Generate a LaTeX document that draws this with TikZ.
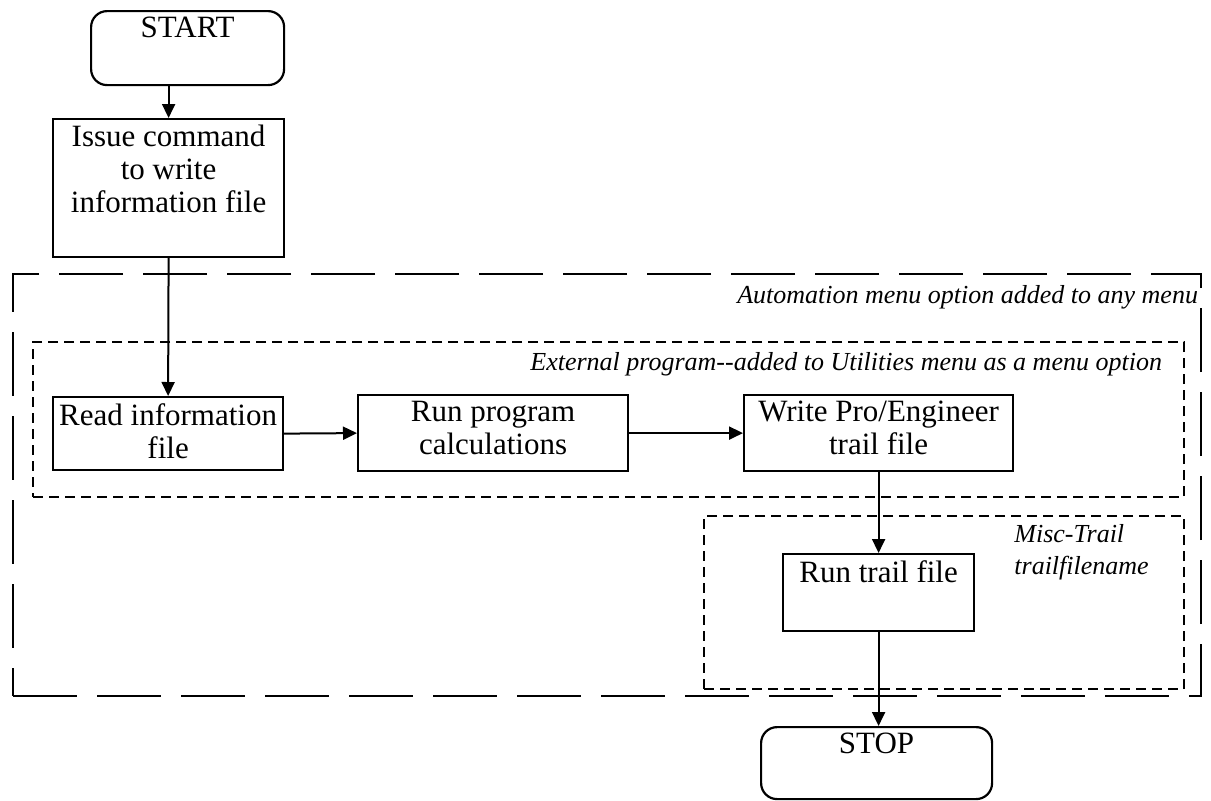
\documentclass[tikz,border=0pt]{standalone}
\usepackage{fontspec}
\setmainfont{Liberation Serif}
\usetikzlibrary{arrows.meta}
\begin{document}
\begin{tikzpicture}[x=1pt,y=-1pt,
  box/.style={draw, line width=2.2pt, inner sep=0pt, anchor=north west},
  term/.style={box, rounded corners=16pt},
  lbl/.style={anchor=north, inner sep=0pt, yshift=-7pt, align=center, font=\fontsize{31}{33}\selectfont},
  arr/.style={line width=2pt, -{Triangle[length=14pt,width=13pt]}},
  outerframe/.style={draw, line width=2.2pt, dash pattern=on 64pt off 20pt, inner sep=0pt, anchor=north west},
  innerframe/.style={draw, line width=2.2pt, dash pattern=on 10pt off 6pt, inner sep=0pt, anchor=north west},
  note/.style={font=\fontsize{26}{32}\selectfont\itshape, inner sep=0pt}]
\useasboundingbox (0,0) rectangle (1211,801);

% frames
\node[outerframe, minimum width=1188pt, minimum height=422pt] (automation) at (12,273) {};
\node[innerframe, minimum width=1151pt, minimum height=155pt] (external) at (32,341) {};
\node[innerframe, minimum width=480pt, minimum height=173pt] (misc) at (703,515) {};

\node[note, anchor=north east] (autolbl) at ([xshift=-4pt,yshift=-12pt]automation.north east) {Automation menu option added to any menu};
\node[note, anchor=north east] (extlbl) at ([xshift=-23pt,yshift=-11pt]external.north east) {External program-{}-added to Utilities menu as a menu option};
\node[note, anchor=north west, align=left] (misclbl) at ([xshift=-171pt,yshift=-9pt]misc.north east) {Misc-Trail\\trailfilename};

% boxes
\node[term, minimum width=193pt, minimum height=74pt, label={[lbl]north:START}] (start) at (90,10) {};
\node[box, minimum width=231pt, minimum height=138pt, label={[lbl]north:{Issue command\\to write\\information file}}] (issue) at (52,118) {};
\node[box, minimum width=230pt, minimum height=73pt, label={[lbl]north:{Read information\\file}}] (read) at (52,396) {};
\node[box, minimum width=270pt, minimum height=76pt, label={[lbl]north:{Run program\\calculations}}] (run) at (357,394) {};
\node[box, minimum width=269pt, minimum height=76pt, label={[lbl]north:{Write Pro/Engineer\\trail file}}] (write) at (743,394) {};
\node[box, minimum width=191pt, minimum height=77pt, label={[lbl]north:{Run trail file}}] (trail) at (782,553) {};
\node[term, minimum width=231pt, minimum height=72pt, label={[lbl]north:STOP}] (stop) at (760,726) {};

% connectors
\draw[arr] (start.south -| issue.north) -- (issue.north);
\draw[arr] (issue.south) -- (read.north);
\draw[arr] (read.east) -- (run.west);
\draw[arr] (run.east) -- (write.west);
\draw[arr] (write.south) -- (trail.north);
\draw[arr] (trail.south) -- (trail.south |- stop.north);
\end{tikzpicture}
\end{document}
